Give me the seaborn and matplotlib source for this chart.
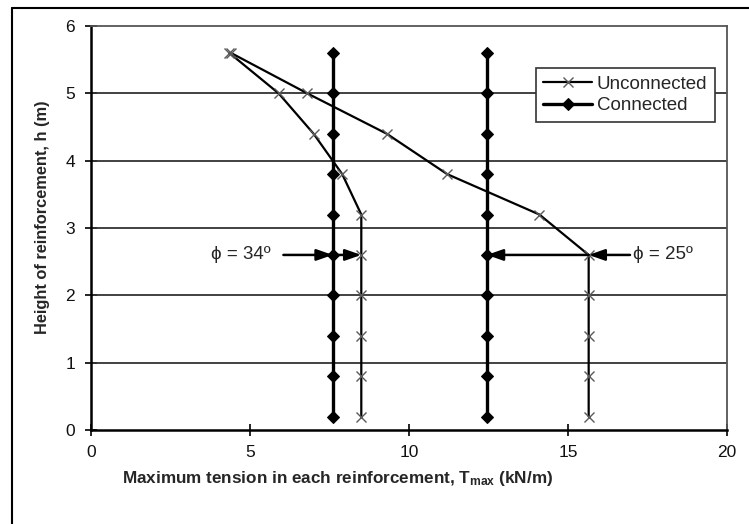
import numpy as np
import pandas as pd
import matplotlib
matplotlib.use("Agg")
import matplotlib.pyplot as plt
from matplotlib.lines import Line2D
import seaborn as sns

# ---- data ----
heights = [0.2, 0.8, 1.4, 2.0, 2.6, 3.2, 3.8, 4.4, 5.0, 5.6]
unconnected_34 = [8.5, 8.5, 8.5, 8.5, 8.5, 8.5, 7.9, 7.0, 5.9, 4.35]
unconnected_25 = [15.65, 15.65, 15.65, 15.65, 15.65, 14.1, 11.2, 9.3, 6.8, 4.4]
connected_34 = [7.6] * 10
connected_25 = [12.45] * 10
x_ticks = [0, 5, 10, 15, 20]
y_ticks = [0, 1, 2, 3, 4, 5, 6]

sns.set_theme(style="white")
plt.rcParams['font.family'] = ['Liberation Sans', 'DejaVu Sans']
plt.rcParams['mathtext.fontset'] = 'custom'
plt.rcParams['mathtext.bf'] = 'Liberation Sans:bold'
plt.rcParams['mathtext.rm'] = 'Liberation Sans:bold'
plt.rcParams['mathtext.it'] = 'Liberation Sans:bold'
plt.rcParams['mathtext.default'] = 'bf'

fig = plt.figure(figsize=(7.49, 5.24), dpi=100)
ax = fig.add_axes([91/749, 1-430/524, 636/749, 404/524])

# gridlines
for yv in [1, 2, 3, 4, 5]:
    ax.axhline(yv, color='#333333', lw=1.3, zorder=1)

ucol = '#5a5a5a'
for i, xs in enumerate([unconnected_34, unconnected_25]):
    sns.lineplot(x=xs, y=heights, sort=False, estimator=None, ax=ax,
                 color='black', lw=1.6, marker='x', markersize=7.5,
                 markeredgecolor=ucol, markeredgewidth=1.0,
                 label='Unconnected' if i == 0 else None, zorder=3)
for i, xs in enumerate([connected_34, connected_25]):
    sns.lineplot(x=xs, y=heights, sort=False, estimator=None, ax=ax,
                 color='black', lw=2.4, marker='D', markersize=6,
                 markeredgecolor='black', markerfacecolor='black',
                 label='Connected' if i == 0 else None, zorder=4)

# annotations
akw = dict(arrowstyle='-|>,head_length=0.8,head_width=0.28', color='black', lw=1.8,
           shrinkA=0, shrinkB=0)
ax.annotate('', xy=(7.6, 2.6), xytext=(6.05, 2.6), arrowprops=akw, zorder=5)
ax.annotate('', xy=(8.5, 2.6), xytext=(7.6, 2.6), arrowprops=akw, zorder=5)
ax.annotate('', xy=(15.65, 2.6), xytext=(16.95, 2.6), arrowprops=akw, zorder=5)
ax.annotate('', xy=(12.45, 2.6), xytext=(15.65, 2.6), arrowprops=akw, zorder=5)
ax.text(5.65, 2.6, 'ϕ = 34º', ha='right', va='center', fontsize=13.5)
ax.text(17.05, 2.6, 'ϕ = 25º', ha='left', va='center', fontsize=13.5)

ax.set_xlim(0, 20)
ax.set_ylim(0, 6)
ax.set_xticks(x_ticks)
ax.set_yticks(y_ticks)
ax.tick_params(axis='both', direction='inout', length=9, width=1.2, labelsize=12.5,
               colors='black', left=True, bottom=True)
ax.tick_params(axis='x', pad=6)
ax.tick_params(axis='y', pad=7)
for lab in ax.get_xticklabels() + ax.get_yticklabels():
    lab.set_color('#111111')

for s in ['left', 'bottom']:
    ax.spines[s].set_color('black')
    ax.spines[s].set_linewidth(1.8)
for s in ['top', 'right']:
    ax.spines[s].set_color('#555555')
    ax.spines[s].set_linewidth(1.3)

ax.set_xlabel(r'Maximum tension in each reinforcement, T$_{max}$ (kN/m)',
              fontsize=12.3, fontweight='bold')
ax.set_ylabel('Height of reinforcement, h (m)', fontsize=11.8, fontweight='bold')
ax.xaxis.set_label_coords(0.388, -0.097)
ax.yaxis.set_label_coords(-0.064, 0.527)

leg = ax.legend(loc='upper right', bbox_to_anchor=(0.981, 0.896), fontsize=13.5,
                frameon=True, fancybox=False, shadow=False, handlelength=2.6,
                borderpad=0.4, labelspacing=0.25, handletextpad=0.25, borderaxespad=0)
leg.get_frame().set_edgecolor('#333333')
leg.get_frame().set_linewidth(1.2)
leg.get_frame().set_facecolor('white')
leg.get_frame().set_alpha(1)
leg.set_zorder(10)

# outer figure border (top and left only)
fig.add_artist(Line2D([12/749, 12/749], [0, 1-8/524], color='black', lw=1.5))
fig.add_artist(Line2D([12/749, 1], [1-8/524, 1-8/524], color='black', lw=1.5))

fig.savefig('out.png', dpi=100)
